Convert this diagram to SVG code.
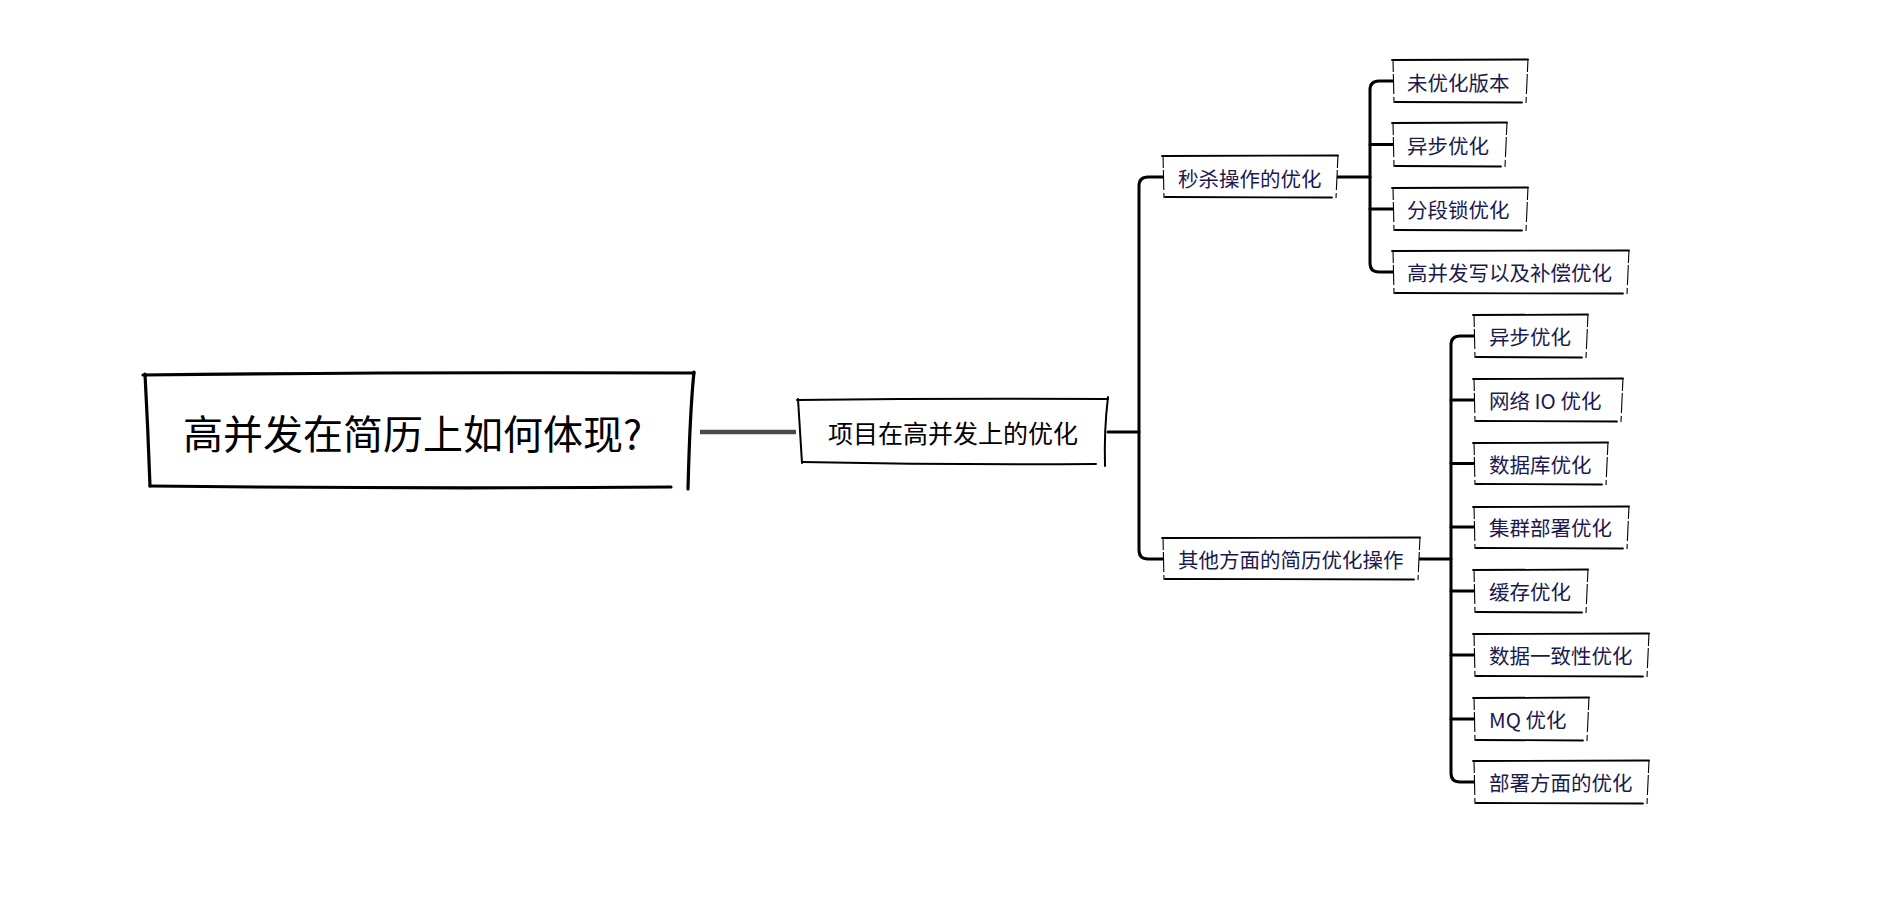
<svg xmlns="http://www.w3.org/2000/svg" width="1892" height="920" viewBox="0 0 1892 920">
<style>
.bg{fill:#fff}
.fill{fill:#fff;stroke:none}
.rootline{fill:none;stroke:#000;stroke-width:3.2;stroke-linecap:round}
.midline{fill:none;stroke:#000;stroke-width:2;stroke-linecap:round}
.tb{fill:none;stroke:#000;stroke-width:1.8;stroke-linecap:round}
.side{fill:none;stroke:#000;stroke-width:1.1;stroke-dasharray:13 2 20 3}
.conn{fill:none;stroke:#000;stroke-width:3;stroke-linecap:round;stroke-linejoin:round}
.conn0{fill:none;stroke:#4a4a4a;stroke-width:4.5}
.t0{font-family:"Noto Sans CJK SC","Noto Sans",sans-serif;font-size:40px;fill:#000}
.t1{font-family:"Noto Sans CJK SC","Noto Sans",sans-serif;font-size:25px;fill:#000}
.t2{font-family:"Noto Sans CJK SC","Noto Sans",sans-serif;font-size:20.5px;fill:#1a1a4e}
</style>
<rect class="bg" x="0" y="0" width="1892" height="920"/>

<g id="connectors">
  <path class="conn0" d="M700,432 H796"/>
  <path class="conn" d="M1108,432 H1139"/>
  <path class="conn" d="M1163,177 H1148 Q1139,177 1139,186 V550 Q1139,559 1148,559 H1163"/>
  <path class="conn" d="M1337,177 H1370"/>
  <path class="conn" d="M1393,81 H1379 Q1370,81 1370,90 V263 Q1370,272 1379,272 H1393"/>
  <path class="conn" d="M1370,144.5 H1393"/>
  <path class="conn" d="M1370,209 H1393"/>
  <path class="conn" d="M1419,559 H1451"/>
  <path class="conn" d="M1474,336 H1460 Q1451,336 1451,345 V773 Q1451,782 1460,782 H1474"/>
  <path class="conn" d="M1451,400 H1474"/>
  <path class="conn" d="M1451,463.5 H1474"/>
  <path class="conn" d="M1451,527 H1474"/>
  <path class="conn" d="M1451,591 H1474"/>
  <path class="conn" d="M1451,655 H1474"/>
  <path class="conn" d="M1451,719 H1474"/>
</g>

<g id="root">
  <rect class="fill" x="146" y="375" width="546" height="111"/>
  <path class="rootline" d="M143,375 Q400,372 694,373"/>
  <path class="rootline" d="M145,374 Q148,430 150,486"/>
  <path class="rootline" d="M150,486 Q420,489 671,487"/>
  <path class="rootline" d="M694,372 Q690,410 688,489"/>
  <text class="t0" x="183" y="449">高并发在简历上如何体现?</text>
</g>

<g id="middle">
  <rect class="fill" x="800" y="400" width="306" height="63"/>
  <path class="midline" d="M797,400 Q950,398 1108,399"/>
  <path class="midline" d="M798,399 Q800,430 802,463"/>
  <path class="midline" d="M802,462 Q950,465 1096,464"/>
  <path class="midline" d="M1108,397 Q1104,430 1105,466"/>
  <text class="t1" x="953" y="443" text-anchor="middle">项目在高并发上的优化</text>
</g>

<g id="b1">
  <rect class="fill" x="1163" y="156" width="174" height="41"/>
  <path class="tb" d="M1162,156 L1338,155.5"/>
  <path class="tb" d="M1165,197 L1332,197.5"/>
  <path class="side" d="M1163,155 L1164,198"/>
  <path class="side" d="M1338,155 L1336,198"/>
  <text class="t2" x="1178" y="186.5">秒杀操作的优化</text>
</g>

<g id="b2">
  <rect class="fill" x="1163" y="538" width="256" height="41"/>
  <path class="tb" d="M1162,538 L1420,537.5"/>
  <path class="tb" d="M1165,579 L1414,579.5"/>
  <path class="side" d="M1163,537 L1164,580"/>
  <path class="side" d="M1420,537 L1418,580"/>
  <text class="t2" x="1178" y="567.5">其他方面的简历优化操作</text>
</g>

<g id="l1">
  <rect class="fill" x="1393" y="60" width="134" height="42"/>
  <path class="tb" d="M1392,60 L1528,59.5"/>
  <path class="tb" d="M1395,102 L1522,102.5"/>
  <path class="side" d="M1393,59 L1394,103"/>
  <path class="side" d="M1528,59 L1526,103"/>
  <text class="t2" x="1407" y="91">未优化版本</text>
</g>
<g id="l2">
  <rect class="fill" x="1393" y="123" width="113" height="43"/>
  <path class="tb" d="M1392,123 L1507,122.5"/>
  <path class="tb" d="M1395,166 L1501,166.5"/>
  <path class="side" d="M1393,122 L1394,167"/>
  <path class="side" d="M1507,122 L1505,167"/>
  <text class="t2" x="1407" y="154">异步优化</text>
</g>
<g id="l3">
  <rect class="fill" x="1393" y="188" width="134" height="42"/>
  <path class="tb" d="M1392,188 L1528,187.5"/>
  <path class="tb" d="M1395,230 L1522,230.5"/>
  <path class="side" d="M1393,187 L1394,231"/>
  <path class="side" d="M1528,187 L1526,231"/>
  <text class="t2" x="1407" y="218">分段锁优化</text>
</g>
<g id="l4">
  <rect class="fill" x="1393" y="251" width="235" height="42"/>
  <path class="tb" d="M1392,251 L1629,250.5"/>
  <path class="tb" d="M1395,293 L1623,293.5"/>
  <path class="side" d="M1393,250 L1394,294"/>
  <path class="side" d="M1629,250 L1627,294"/>
  <text class="t2" x="1407" y="281">高并发写以及补偿优化</text>
</g>

<g id="m1">
  <rect class="fill" x="1474" y="315" width="113" height="42"/>
  <path class="tb" d="M1473,315 L1588,314.5"/>
  <path class="tb" d="M1476,357 L1582,357.5"/>
  <path class="side" d="M1474,314 L1475,358"/>
  <path class="side" d="M1588,314 L1586,358"/>
  <text class="t2" x="1489" y="345">异步优化</text>
</g>
<g id="m2">
  <rect class="fill" x="1474" y="379" width="148" height="42"/>
  <path class="tb" d="M1473,379 L1623,378.5"/>
  <path class="tb" d="M1476,421 L1617,421.5"/>
  <path class="side" d="M1474,378 L1475,422"/>
  <path class="side" d="M1623,378 L1621,422"/>
  <text class="t2" x="1489" y="409">网络 IO 优化</text>
</g>
<g id="m3">
  <rect class="fill" x="1474" y="443" width="133" height="41"/>
  <path class="tb" d="M1473,443 L1608,442.5"/>
  <path class="tb" d="M1476,484 L1602,484.5"/>
  <path class="side" d="M1474,442 L1475,485"/>
  <path class="side" d="M1608,442 L1606,485"/>
  <text class="t2" x="1489" y="472.5">数据库优化</text>
</g>
<g id="m4">
  <rect class="fill" x="1474" y="507" width="154" height="41"/>
  <path class="tb" d="M1473,507 L1629,506.5"/>
  <path class="tb" d="M1476,548 L1623,548.5"/>
  <path class="side" d="M1474,506 L1475,549"/>
  <path class="side" d="M1629,506 L1627,549"/>
  <text class="t2" x="1489" y="536">集群部署优化</text>
</g>
<g id="m5">
  <rect class="fill" x="1474" y="570" width="113" height="42"/>
  <path class="tb" d="M1473,570 L1588,569.5"/>
  <path class="tb" d="M1476,612 L1582,612.5"/>
  <path class="side" d="M1474,569 L1475,613"/>
  <path class="side" d="M1588,569 L1586,613"/>
  <text class="t2" x="1489" y="600">缓存优化</text>
</g>
<g id="m6">
  <rect class="fill" x="1474" y="634" width="174" height="42"/>
  <path class="tb" d="M1473,634 L1649,633.5"/>
  <path class="tb" d="M1476,676 L1643,676.5"/>
  <path class="side" d="M1474,633 L1475,677"/>
  <path class="side" d="M1649,633 L1647,677"/>
  <text class="t2" x="1489" y="664">数据一致性优化</text>
</g>
<g id="m7">
  <rect class="fill" x="1474" y="698" width="114" height="42"/>
  <path class="tb" d="M1473,698 L1589,697.5"/>
  <path class="tb" d="M1476,740 L1583,740.5"/>
  <path class="side" d="M1474,697 L1475,741"/>
  <path class="side" d="M1589,697 L1587,741"/>
  <text class="t2" x="1489" y="728">MQ 优化</text>
</g>
<g id="m8">
  <rect class="fill" x="1474" y="761" width="174" height="42"/>
  <path class="tb" d="M1473,761 L1649,760.5"/>
  <path class="tb" d="M1476,803 L1643,803.5"/>
  <path class="side" d="M1474,760 L1475,804"/>
  <path class="side" d="M1649,760 L1647,804"/>
  <text class="t2" x="1489" y="791">部署方面的优化</text>
</g>
</svg>
